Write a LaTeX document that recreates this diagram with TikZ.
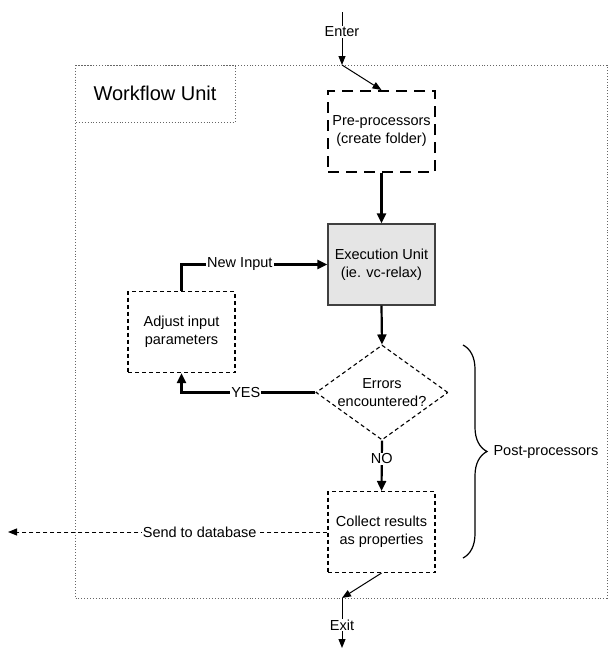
\documentclass[tikz,border=0pt]{standalone}
\usepackage{fontspec}
\setmainfont{Liberation Sans}
\usetikzlibrary{arrows.meta,shapes.geometric,decorations.pathreplacing}
\begin{document}
\begin{tikzpicture}[x=1pt,y=-1pt,
  every node/.style={font=\fontsize{14.5}{18}\selectfont, align=center},
  procbox/.style={minimum width=107pt, minimum height=81pt, inner sep=0pt},
  predash/.style={procbox, draw, line width=2pt, dash pattern=on 11pt off 7pt},
  smalldash/.style={procbox, draw, line width=1.1pt, dash pattern=on 4pt off 3pt},
  execbox/.style={procbox, draw=black!75, fill=black!10, line width=1.2pt},
  thickarrow/.style={line width=2.2pt, -{Triangle[length=10pt,width=9pt]}},
  thinarrow/.style={line width=1pt, -{Triangle[length=9pt,width=7pt]}},
  thinline/.style={line width=1pt},
  linelabel/.style={fill=white, inner sep=1pt},
  unitbox/.style={draw=black!60, dotted, line width=0.9pt}
]
\useasboundingbox (0,0) rectangle (608,649);

% outer unit box
\draw[unitbox] (75,65) rectangle (607,598);
\draw[unitbox] (75,65) rectangle (235,122);
\node[font=\fontsize{20}{24}\selectfont] (wfu) at (155,93) {Workflow Unit};

% nodes
\node[predash] (pre) at (381.5,131.5) {Pre-processors\\(create folder)};
\node[execbox] (exec) at (381.5,264.5) {Execution Unit\\(ie. vc-relax)};
\node[smalldash] (adjust) at (181.5,332) {Adjust input\\parameters};
\node[smalldash] (collect) at (381.5,532) {Collect results\\as properties};
\node[diamond, draw, line width=1.1pt, dash pattern=on 4pt off 3pt,
      minimum width=132pt, minimum height=95pt, inner sep=0pt] (dia) at (382,392.5) {};
\node at (dia.center) (diatext) {Errors\\encountered?};

% enter
\coordinate (entertop) at (342,12);
\coordinate (enterpt) at (342,65);
\draw[thinarrow] (entertop) -- node[linelabel, pos=0.37] (enter) {Enter} (enterpt);
\draw[thinarrow] (enterpt) -- (pre.north);

% main flow
\draw[thickarrow] (pre.south) -- (exec.north);
\draw[thickarrow] (exec.south) -- (dia.north);
\draw[thickarrow] (dia.south) -- node[linelabel, pos=0.36] (no) {NO} (collect.north);
\draw[thickarrow] (dia.west) -| node[linelabel, pos=0.26] (yes) {YES} (adjust.south);
\draw[thickarrow] (adjust.north) |- node[linelabel, pos=0.7] (newin) {New Input} (exec.west);

% send to database
\coordinate (dbend) at (8,532);
\draw[line width=1pt, dash pattern=on 4pt off 3pt, -{Triangle[length=9pt,width=7pt]}]
  (collect.west) -- node[linelabel, pos=0.4] (send) {Send to database} (dbend);

% exit
\coordinate (exitpt) at (342,598);
\coordinate (exitbot) at (342,648);
\draw[thinarrow] (collect.south) -- (exitpt);
\draw[thinarrow] (exitpt) -- node[linelabel, pos=0.54] (exit) {Exit} (exitbot);

% brace
\coordinate (bracetop) at (463,345);
\coordinate (bracebot) at (463,558);
\draw[line width=1.2pt, decorate, decoration={brace, amplitude=24pt}] (bracetop) -- (bracebot);
\node[anchor=west] (post) at (490,452) {Post-processors};
\end{tikzpicture}
\end{document}
